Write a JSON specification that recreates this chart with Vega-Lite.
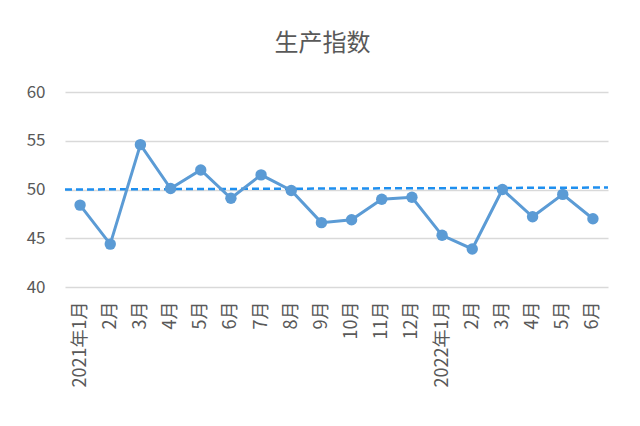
{
  "$schema": "https://vega.github.io/schema/vega-lite/v6.json",
  "width": 543,
  "height": 195,
  "autosize": {"type": "none"},
  "padding": {"left": 65, "top": 92, "right": 32, "bottom": 139},
  "background": "white",
  "config": {
    "view": {"stroke": null},
    "font": "Noto Sans CJK SC",
    "axis": {"labelFont": "Noto Sans CJK SC", "labelColor": "#595959", "labelFontSize": 17}
  },
  "title": {
    "text": "生产指数",
    "fontSize": 24,
    "fontWeight": "normal",
    "color": "#595959",
    "font": "Noto Sans CJK SC",
    "anchor": "middle",
    "dx": -14,
    "offset": 27
  },
  "datasets": {
    "main": [
      {"month": "2021-01", "value": 48.4},
      {"month": "2021-02", "value": 44.4},
      {"month": "2021-03", "value": 54.6},
      {"month": "2021-04", "value": 50.1},
      {"month": "2021-05", "value": 52.0},
      {"month": "2021-06", "value": 49.1},
      {"month": "2021-07", "value": 51.5},
      {"month": "2021-08", "value": 49.9},
      {"month": "2021-09", "value": 46.6},
      {"month": "2021-10", "value": 46.9},
      {"month": "2021-11", "value": 49.0},
      {"month": "2021-12", "value": 49.2},
      {"month": "2022-01", "value": 45.3},
      {"month": "2022-02", "value": 43.9},
      {"month": "2022-03", "value": 50.0},
      {"month": "2022-04", "value": 47.2},
      {"month": "2022-05", "value": 49.5},
      {"month": "2022-06", "value": 47.0}
    ],
    "trend": [
      {"pos": 0, "value": 50.0},
      {"pos": 1, "value": 50.2}
    ]
  },
  "layer": [
    {
      "data": {"name": "trend"},
      "mark": {"type": "line", "color": "#1E8FEF", "strokeWidth": 2.5, "strokeDash": [7, 4]},
      "encoding": {
        "x": {"field": "pos", "type": "quantitative", "scale": {"domain": [0, 1]}, "axis": null},
        "y": {
          "field": "value",
          "type": "quantitative",
          "scale": {"domain": [40, 60], "nice": false, "zero": false},
          "axis": {
            "title": null,
            "values": [40, 45, 50, 55, 60],
            "ticks": false,
            "domain": false,
            "grid": true,
            "gridColor": "#D9D9D9",
            "gridWidth": 1.5,
            "labelPadding": 20
          }
        }
      }
    },
    {
      "data": {"name": "main"},
      "encoding": {
        "x": {
          "field": "month",
          "type": "ordinal",
          "sort": "ascending",
          "scale": {"type": "point", "padding": 0.5},
          "axis": {
            "title": null,
            "labelAngle": -90,
            "labelAlign": "right",
            "labelBaseline": "middle",
            "labelPadding": 14,
            "labelFontSize": 18,
            "ticks": false,
            "domain": false,
            "grid": false,
            "labelExpr": "slice(datum.value, 5) == '01' ? slice(datum.value, 0, 4) + '年1月' : toNumber(slice(datum.value, 5)) + '月'"
          }
        },
        "y": {"field": "value", "type": "quantitative"}
      },
      "layer": [
        {"mark": {"type": "line", "color": "#5B9BD5", "strokeWidth": 3}},
        {"mark": {"type": "point", "filled": true, "opacity": 1, "color": "#5B9BD5", "size": 130}}
      ]
    }
  ],
  "resolve": {"scale": {"x": "independent"}}
}
